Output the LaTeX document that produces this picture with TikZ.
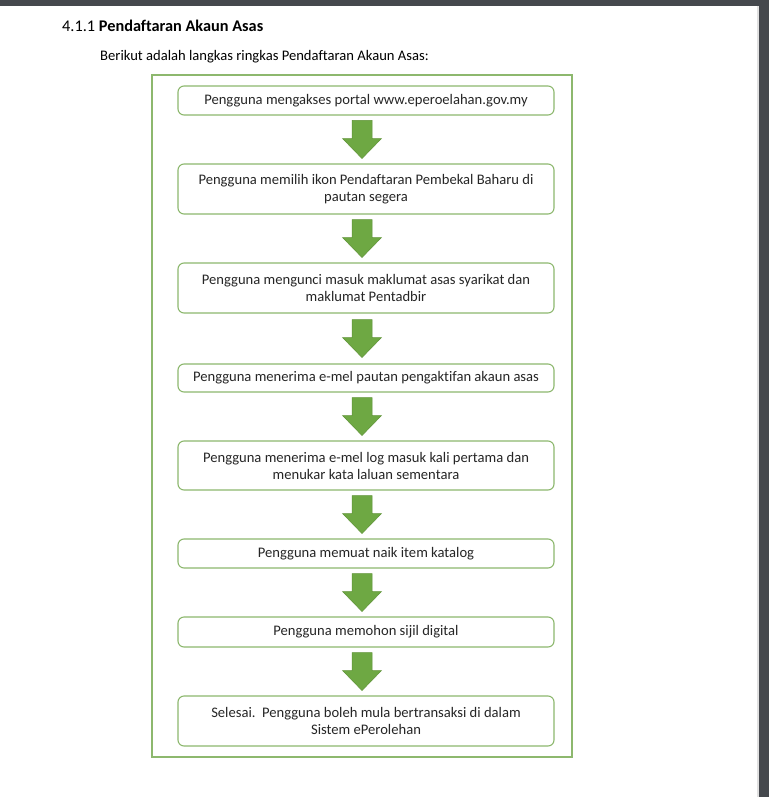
\documentclass[tikz,border=0pt]{standalone}
\usepackage{fontspec}
\setmainfont{Carlito}[Ligatures=NoCommon]
\begin{document}
\begin{tikzpicture}[x=1pt,y=-1pt,
  stepbox/.style={draw=boxgreen,line width=1.1pt,rounded corners=6pt,fill=white,align=center,
    font=\fontsize{14.6}{17}\selectfont,inner sep=0pt,text=black!85,minimum width=376pt},
  downarrow/.style={fill=arrowgreen,draw=arrowdark,line width=0.5pt}]
\definecolor{boxgreen}{HTML}{8DB86E}
\definecolor{arrowgreen}{HTML}{6EA843}
\definecolor{arrowdark}{HTML}{5E9236}
\definecolor{darkbar}{HTML}{45484D}
\useasboundingbox (0,0) rectangle (769,797);
\fill[white] (0,0) rectangle (769,797);
\fill[darkbar] (0,0) rectangle (769,6);
\fill[darkbar] (759,0) rectangle (769,797);
\fill[black!12] (757,6) rectangle (759,797);
\node[anchor=base west,inner sep=0pt,font=\fontsize{16.3}{19}\selectfont] (title) at (62,32) {4.1.1 \textbf{Pendaftaran Akaun Asas}};
\node[anchor=base west,inner sep=0pt,font=\fontsize{14.6}{17}\selectfont] (intro) at (100,61) {Berikut adalah langkas ringkas Pendaftaran Akaun Asas:};
\draw[boxgreen,line width=1.1pt] (152,75) rectangle (572,757);
\node[stepbox,minimum height=29pt] (b1) at (366,100.5) {Pengguna mengakses portal www.eperoelahan.gov.my};
\node[stepbox,minimum height=50pt] (b2) at (366,189) {Pengguna memilih ikon Pendaftaran Pembekal Baharu di\\pautan segera};
\node[stepbox,minimum height=50pt] (b3) at (366,288) {Pengguna mengunci masuk maklumat asas syarikat dan\\maklumat Pentadbir};
\node[stepbox,minimum height=28pt] (b4) at (366,378) {Pengguna menerima e-mel pautan pengaktifan akaun asas};
\node[stepbox,minimum height=49pt] (b5) at (366,465.5) {Pengguna menerima e-mel log masuk kali pertama dan\\menukar kata laluan sementara};
\node[stepbox,minimum height=29pt] (b6) at (366,553.5) {Pengguna memuat naik item katalog};
\node[stepbox,minimum height=30pt] (b7) at (366,632) {Pengguna memohon sijil digital};
\node[stepbox,minimum height=50pt] (b8) at (366,721) {Selesai.\ \ Pengguna boleh mula bertransaksi di dalam\\Sistem ePerolehan};
\foreach \a/\b in {b1/b2,b2/b3,b3/b4,b4/b5,b5/b6,b6/b7,b7/b8}{
  \path (\a.south) -- (\b.north) coordinate[pos=0.5] (m\a);
  \draw[downarrow] (m\a) ++(-14,-19) -- ++(20,0) -- ++(0,18) -- ++(9.5,0) -- ++(-19.5,20)
    -- ++(-19.5,-20) -- ++(9.5,0) -- cycle;
}
\end{tikzpicture}
\end{document}
